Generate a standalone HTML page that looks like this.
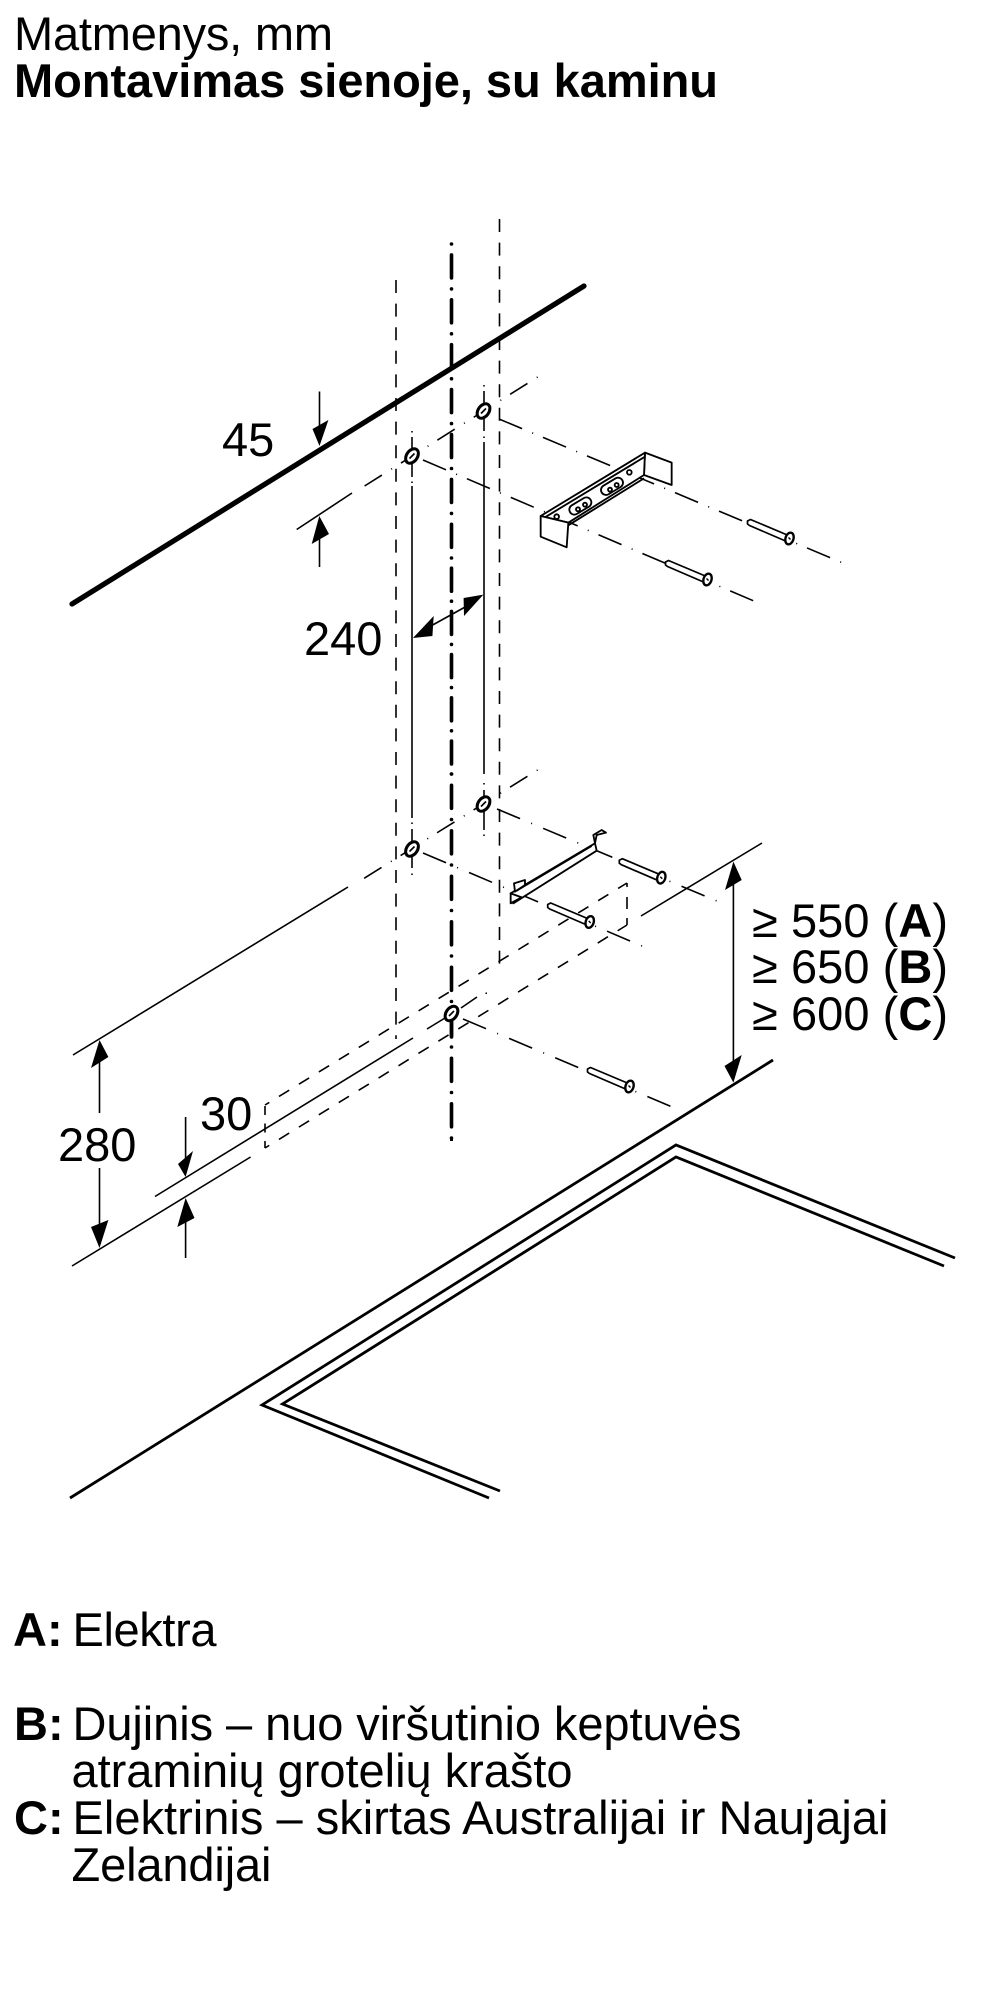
<!DOCTYPE html>
<html lang="lt"><head><meta charset="utf-8"><title>Matmenys</title>
<style>
html,body{margin:0;padding:0;background:#fff}
svg{display:block}
text{font-family:"Liberation Sans",sans-serif;font-size:47px;fill:#000}
.b{font-weight:bold}
.t{stroke:#000;stroke-width:1.6;fill:none}
.dd{stroke:#000;stroke-width:1.6;fill:none;stroke-dasharray:25 11 1 10.7}
.dl{stroke:#000;stroke-width:1.6;fill:none;stroke-dasharray:25 12 1 12}
.ob{stroke:#000;stroke-width:1.6;fill:none;stroke-dasharray:1 11 20.5 10.5}
.vd{stroke:#000;stroke-width:1.6;fill:none;stroke-dasharray:13 10.6}
.rd{stroke:#000;stroke-width:1.6;fill:none;stroke-dasharray:12 11.4}
.c{stroke:#000;stroke-width:3.6;fill:none;stroke-linecap:round}
.h{stroke:#000;stroke-width:2.8;fill:none}
.br{stroke:#000;stroke-width:5.5;fill:#fff;stroke-linejoin:round}
.s{stroke:#000;stroke-width:1.7;fill:#fff;stroke-linejoin:round}
</style></head><body>
<svg xmlns="http://www.w3.org/2000/svg" width="1000" height="2000" viewBox="0 0 1000 2000">
<defs>
<g id="scr"><path class="s" d="M0,-1.5L3,-3L41,13L38,18.5L2,3L0,1.5Z"/><ellipse cx="42" cy="16" rx="4" ry="6" transform="rotate(18 42 16)" fill="#fff" stroke="#000" stroke-width="2.4"/><path d="M41,15l2,2" stroke="#000" stroke-width="1.4"/></g>
<g id="hole"><ellipse rx="5.4" ry="8" transform="rotate(35)" fill="#fff" stroke="#000" stroke-width="3"/><path d="M-2.5,2.5L2.5,-2.5" stroke="#000" stroke-width="1.6"/></g>
</defs>

<text x="14" y="50" textLength="319" lengthAdjust="spacing">Matmenys, mm</text>
<text x="14" y="97" class="b" textLength="704" lengthAdjust="spacing">Montavimas sienoje, su kaminu</text>

<!-- vertical dashed -->
<line class="vd" x1="396" y1="280" x2="396" y2="1039"/>
<line class="vd" x1="499.5" y1="219" x2="499.5" y2="972"/>

<!-- obliques through fixing holes -->
<line class="ob" x1="537.6" y1="377" x2="363" y2="487"/>
<line class="t" x1="296.7" y1="529.5" x2="352" y2="493"/>
<line class="ob" x1="537.6" y1="770" x2="363" y2="879"/>
<line class="t" x1="73" y1="1055" x2="348" y2="887"/>

<!-- depth lines -->
<line class="dd" x1="499" y1="419" x2="843" y2="563"/>
<line class="dd" x1="423" y1="460" x2="760" y2="603.6"/>
<line class="dl" x1="497" y1="809" x2="724" y2="904"/>
<line class="dl" x1="423" y1="853" x2="649" y2="949"/>
<line class="dl" x1="463" y1="1019" x2="677" y2="1109"/>

<!-- centre line -->
<line class="c" x1="451.5" y1="244" x2="451.5" y2="558" stroke-dasharray="0 10.9 23 11"/>
<line class="c" x1="451.5" y1="558" x2="451.5" y2="774" stroke-dasharray="0 10.2 23 10"/>
<line class="c" x1="451.5" y1="774" x2="451.5" y2="1047" stroke-dasharray="0 11.3 23 11.2"/>
<line class="c" x1="451.5" y1="1047" x2="451.5" y2="1139" stroke-dasharray="0 11.3 23 11.2"/>
<line x1="451.5" y1="1139" x2="451.5" y2="1141" stroke="#000" stroke-width="3"/>

<!-- thick wall line -->
<line x1="72" y1="604" x2="584" y2="286" stroke="#000" stroke-width="5.2" stroke-linecap="round"/>

<!-- drill verticals -->
<g class="t">
<line x1="412" y1="431" x2="412" y2="432.5"/><line x1="412" y1="437" x2="412" y2="477"/><line x1="412" y1="481.5" x2="412" y2="483"/><line x1="412" y1="486" x2="412" y2="818"/><line x1="412" y1="822.5" x2="412" y2="824"/><line x1="412" y1="829" x2="412" y2="868"/><line x1="412" y1="873.5" x2="412" y2="875"/>
<line x1="484" y1="385" x2="484" y2="386.5"/><line x1="484" y1="391" x2="484" y2="431"/><line x1="484" y1="436.5" x2="484" y2="438"/><line x1="484" y1="442" x2="484" y2="774"/><line x1="484" y1="783" x2="484" y2="784.5"/><line x1="484" y1="790" x2="484" y2="830"/><line x1="484" y1="834.5" x2="484" y2="836"/>
</g>
<use href="#hole" x="412" y="456"/>
<use href="#hole" x="483.5" y="411"/>
<use href="#hole" x="412" y="849"/>
<use href="#hole" x="483.5" y="804"/>

<!-- cooker-hood outline dashed box -->
<line class="rd" x1="265" y1="1105" x2="627" y2="883" style="stroke-dashoffset:7"/>
<line class="rd" x1="265" y1="1148" x2="627" y2="925" style="stroke-dashoffset:7"/>
<line class="t" x1="265" y1="1106" x2="265" y2="1148" stroke-dasharray="9 8.5"/>
<line class="t" x1="627" y1="883" x2="627" y2="925" stroke-dasharray="4 10 12 9 7"/>

<!-- middle + lower lines -->
<line class="t" x1="155" y1="1196.5" x2="413" y2="1038"/>
<line class="t" x1="427" y1="1029" x2="445" y2="1018"/>
<line class="t" x1="461" y1="1008" x2="477" y2="997"/>
<rect x="485.5" y="992.5" width="1.5" height="1.5"/>
<line class="t" x1="72" y1="1266" x2="250.6" y2="1157"/>
<line class="t" x1="641" y1="916" x2="762" y2="843"/>

<use href="#hole" x="451.5" y="1013.5"/>
<line x1="451.5" y1="1022" x2="451.5" y2="1037" stroke="#000" stroke-width="3.6" stroke-linecap="round"/>

<!-- hob -->
<line class="h" x1="773" y1="1060" x2="70" y2="1498"/>
<polyline class="h" points="955,1258 676,1145 262,1405 489,1498"/>
<polyline class="h" points="944,1266 676,1157 282.5,1404 500,1491"/>

<!-- top bracket -->
<g transform="translate(500,430) scale(.33333)">
<path class="br" d="M435,68L515,98L515,165L432,135Z"/>
<path class="br" d="M122,258L435,68L432,135L205,278Z"/>
<path class="br" d="M122,258L205,278L200,352L122,320Z"/>
<path class="br" fill="none" d="M135,262L435,80M205,286L432,145"/>
<rect class="br" x="-36" y="-15" width="72" height="30" rx="15" transform="translate(241,228) rotate(-31)"/>
<rect class="br" x="-36" y="-15" width="72" height="30" rx="15" transform="translate(336,169) rotate(-31)"/>
<circle class="br" cx="234" cy="238" r="6"/><circle class="br" cx="255" cy="224" r="6"/>
<circle class="br" cx="330" cy="179" r="6"/><circle class="br" cx="350" cy="165" r="6"/>
<circle class="br" cx="170" cy="260" r="7"/><circle class="br" cx="388" cy="127" r="7"/>
</g>
<use href="#scr" x="747.5" y="522.5"/>
<use href="#scr" x="665.5" y="563.5"/>

<!-- lower bracket -->
<g transform="translate(480,820) scale(.33333)">
<path class="br" d="M92,220L345,70L350,92L100,250Z"/>
<path class="br" d="M92,220L92,250L125,232Z"/>
<path class="br" d="M102,190L105,215L135,195L135,180Z"/>
<path class="br" d="M340,45L345,70L350,45L378,38L365,30Z"/>
<path class="br" fill="none" stroke-width="7" d="M110,212L335,78"/>
</g>
<use href="#scr" x="619.3" y="861.7"/>
<use href="#scr" x="547.7" y="906"/>
<use href="#scr" x="587.5" y="1070.5"/>

<!-- dimension arrows -->
<g class="t">
<line x1="319.5" y1="391.5" x2="319.5" y2="440"/>
<line x1="319.5" y1="567" x2="319.5" y2="525"/>
<line x1="420" y1="632" x2="476" y2="601"/>
<line x1="99.5" y1="1050" x2="99.5" y2="1113"/>
<line x1="99.5" y1="1168" x2="99.5" y2="1238"/>
<line x1="733.4" y1="870" x2="733.4" y2="1074"/>
<line x1="185.6" y1="1117" x2="185.6" y2="1170"/>
<line x1="185.6" y1="1258" x2="185.6" y2="1205"/>
</g>
<g fill="#000">
<path d="M319.5,446L312.5,429L328.4,420Z"/>
<path d="M319.3,516L311.7,544L329,534Z"/>
<path d="M413,638L433.7,616L432.4,636Z"/>
<path d="M483.4,594.6L463.6,598L464,616Z"/>
<path d="M99.5,1040L91,1068L108.4,1057Z"/>
<path d="M99.5,1248L91,1227L108.4,1220Z"/>
<path d="M733.4,861.6L725,890L741.7,880Z"/>
<path d="M733.4,1082.6L724.5,1066L741.7,1055Z"/>
<path d="M185.6,1177L178,1164L193,1151Z"/>
<path d="M185.6,1198L177.3,1227L194.5,1218Z"/>
</g>

<!-- dimension text -->
<text x="222" y="456">45</text>
<text x="304" y="655">240</text>
<text x="58" y="1161">280</text>
<text x="200" y="1130">30</text>
<text x="752" y="937" textLength="196" lengthAdjust="spacing">≥ 550 (<tspan class="b">A</tspan>)</text>
<text x="752" y="983" textLength="196" lengthAdjust="spacing">≥ 650 (<tspan class="b">B</tspan>)</text>
<text x="752" y="1030" textLength="196" lengthAdjust="spacing">≥ 600 (<tspan class="b">C</tspan>)</text>

<!-- legend -->
<text x="13" y="1646" class="b">A:</text><text x="72.5" y="1646" textLength="144" lengthAdjust="spacing">Elektra</text>
<text x="14" y="1740" class="b">B:</text><text x="72.5" y="1740" textLength="669" lengthAdjust="spacing">Dujinis – nuo viršutinio keptuvės</text>
<text x="71.5" y="1787" textLength="501" lengthAdjust="spacing">atraminių grotelių krašto</text>
<text x="14" y="1834" class="b">C:</text><text x="72.5" y="1834" textLength="816" lengthAdjust="spacing">Elektrinis – skirtas Australijai ir Naujajai</text>
<text x="71.5" y="1881" textLength="200" lengthAdjust="spacing">Zelandijai</text>
</svg>
</body></html>
